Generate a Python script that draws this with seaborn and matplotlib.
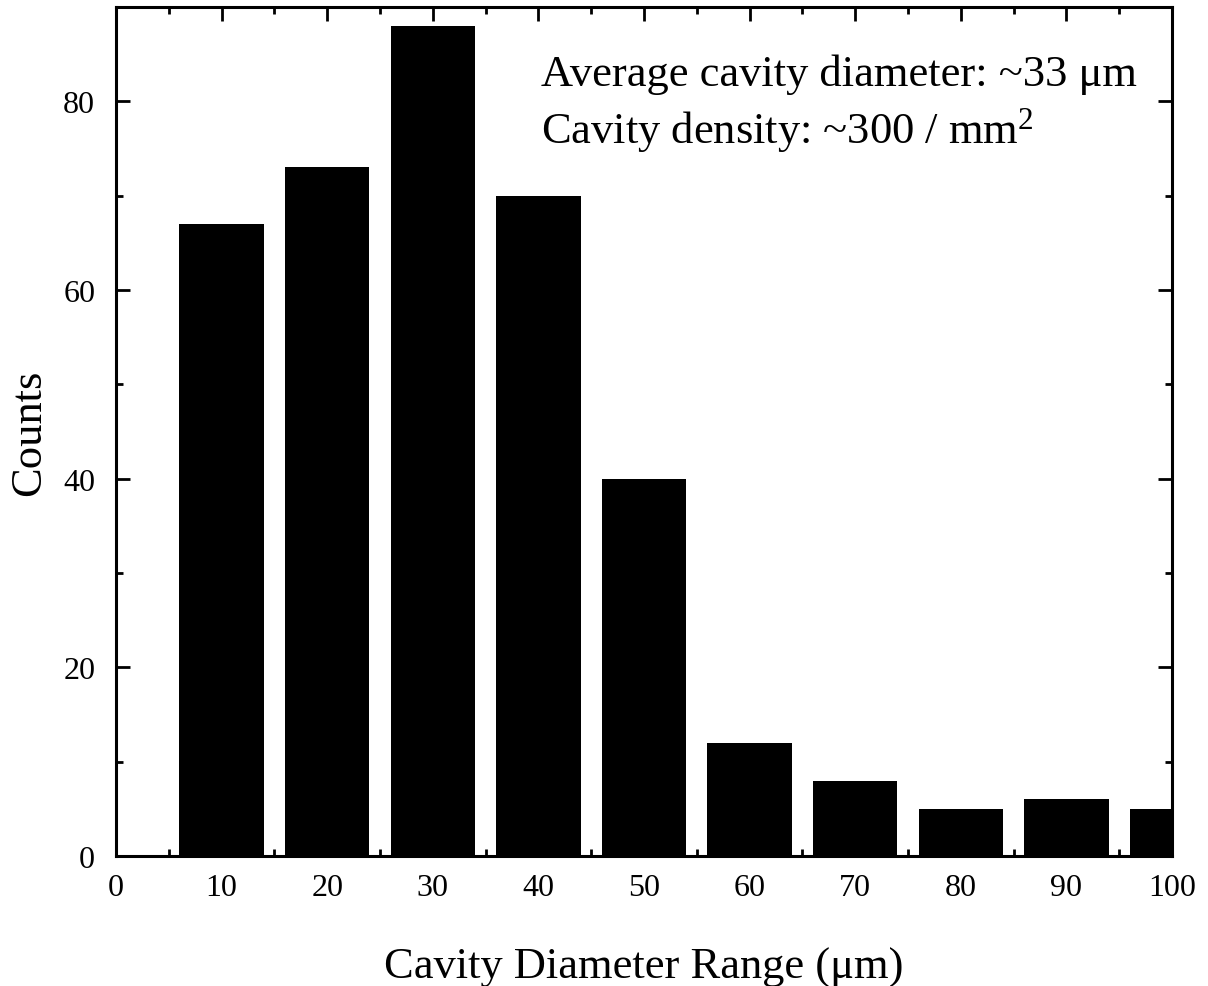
import matplotlib
matplotlib.use("Agg")
import matplotlib.pyplot as plt
from matplotlib.ticker import MultipleLocator
import seaborn as sns
import pandas as pd

# Histogram of cavity diameters (bin centres in µm) and counts per bin
bin_centers = [10, 20, 30, 40, 50, 60, 70, 80, 90, 100]
counts = [67, 73, 88, 70, 40, 12, 8, 5, 6, 5]
x_ticks = [0, 10, 20, 30, 40, 50, 60, 70, 80, 90, 100]
y_ticks = [0, 20, 40, 60, 80]
note_lines = ["Average cavity diameter: ~33 \u03bcm",
              r"Cavity density: ~300 / mm$\mathregular{^2}$"]

sns.set_style("ticks")
plt.rcParams["font.family"] = ["Liberation Serif", "DejaVu Serif"]
plt.rcParams["mathtext.fontset"] = "custom"
plt.rcParams["mathtext.rm"] = "Liberation Serif"
plt.rcParams["text.color"] = "black"
plt.rcParams["axes.labelcolor"] = "black"

df = pd.DataFrame({"center": bin_centers, "count": counts})

fig = plt.figure(figsize=(12.08, 9.87), dpi=100)
ax = fig.add_axes([116 / 1208, 1 - 857 / 987, (1172 - 116) / 1208, (857 - 8) / 987])

sns.barplot(data=df, x="center", y="count", native_scale=True, width=0.8,
            color="black", edgecolor="none", saturation=1, ax=ax)

ax.set_xlim(0, 100)
ax.set_ylim(0, 90)
ax.set_xticks(x_ticks)
ax.set_yticks(y_ticks)
ax.xaxis.set_minor_locator(MultipleLocator(5))
ax.yaxis.set_minor_locator(MultipleLocator(10))
ax.tick_params(which="both", direction="in", top=True, right=True,
               width=2, colors="black", labelcolor="black", labelsize=23)
ax.tick_params(axis="x", which="major", pad=12)
ax.tick_params(axis="y", which="major", pad=15)
ax.tick_params(which="major", length=10)
ax.tick_params(which="minor", length=5)
for s in ax.spines.values():
    s.set_linewidth(2.2)
    s.set_color("black")
    s.set_visible(True)

ax.set_xlabel("Cavity Diameter Range (\u03bcm)", fontsize=32, labelpad=32)
ax.set_ylabel("Counts", fontsize=32, labelpad=10)

ax.text(0.402, 0.921, note_lines[0], transform=ax.transAxes,
        fontsize=32, va="center", ha="left")
ax.text(0.402, 0.855, note_lines[1], transform=ax.transAxes,
        fontsize=32, va="center", ha="left")

fig.savefig("out.png", dpi=100)
